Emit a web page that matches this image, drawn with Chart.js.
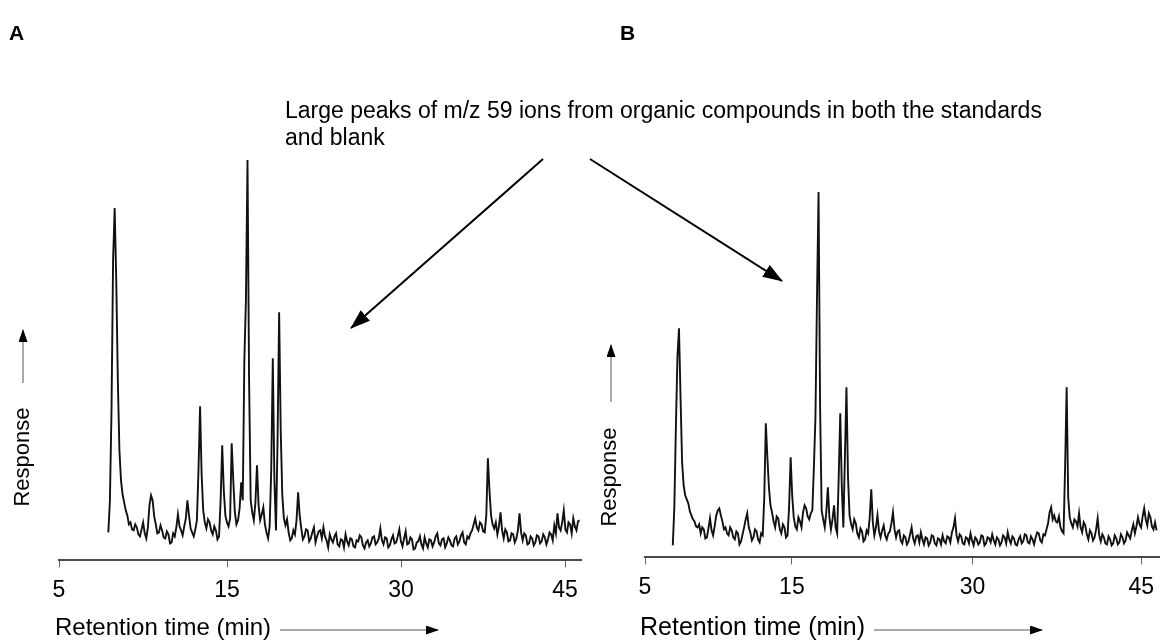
<!DOCTYPE html>
<html>
<head>
<meta charset="utf-8">
<script src="https://cdn.jsdelivr.net/npm/chart.js@4.4.1/dist/chart.umd.min.js"></script>
<style>
  body { margin: 0; background: #fff; width: 1163px; height: 640px; position: relative; overflow: hidden; font-family: "Liberation Sans", Arial, sans-serif; }
  .panel { position: absolute; top: 0; height: 640px; }
  #panelA { left: 0; width: 590px; }
  #panelB { left: 585px; width: 578px; }
  #overlay { position: absolute; left: 0; top: 0; pointer-events: none; }
</style>
</head>
<body>
<div class="panel" id="panelA"><canvas id="chartA" width="590" height="640"></canvas></div>
<div class="panel" id="panelB"><canvas id="chartB" width="578" height="640"></canvas></div>

<svg id="overlay" width="1163" height="640" font-family="Liberation Sans, Arial, sans-serif">
  <defs>
    <marker id="bigHead" markerWidth="20" markerHeight="14" refX="19" refY="7" orient="auto" markerUnits="userSpaceOnUse">
      <path d="M0,0 L20,7 L0,14 Z" fill="#000"/>
    </marker>
    <marker id="smallHead" markerWidth="13" markerHeight="9" refX="12" refY="4.5" orient="auto" markerUnits="userSpaceOnUse">
      <path d="M0,0 L13,4.5 L0,9 Z" fill="#000"/>
    </marker>
  </defs>
  <text x="9" y="40" font-weight="bold" font-size="21">A</text>
  <text x="620" y="40" font-weight="bold" font-size="21">B</text>

  <text x="285" y="118" font-size="23">Large peaks of m/z 59 ions from organic compounds in both the standards</text>
  <text x="285" y="145" font-size="23">and blank</text>
  <line x1="543" y1="159" x2="351" y2="328" stroke="#000" stroke-width="2" marker-end="url(#bigHead)"/>
  <line x1="590" y1="159" x2="782" y2="281" stroke="#000" stroke-width="2" marker-end="url(#bigHead)"/>

  <text transform="translate(29,457) rotate(-90)" text-anchor="middle" font-size="22">Response</text>
  <line x1="23" y1="383" x2="23" y2="330" stroke="#555" stroke-width="1" marker-end="url(#smallHead)"/>
  <text transform="translate(616,477) rotate(-90)" text-anchor="middle" font-size="22">Response</text>
  <line x1="611" y1="402" x2="611" y2="345" stroke="#555" stroke-width="1" marker-end="url(#smallHead)"/>

  <text x="55" y="635" font-size="24">Retention time (min)</text>
  <line x1="280" y1="630" x2="438" y2="630" stroke="#555" stroke-width="1" marker-end="url(#smallHead)"/>
  <text x="640" y="635" font-size="25">Retention time (min)</text>
  <line x1="874" y1="630" x2="1042" y2="630" stroke="#555" stroke-width="1" marker-end="url(#smallHead)"/>
</svg>

<script>
// printed tick labels; the printed time axis is not evenly spaced, so each
// panel keeps its own tick positions on its time scale
const tickLabels = ['5', '15', '30', '45'];
const tickPosA = [5, 18.28, 32.04, 45];
const tickPosB = [5, 16.84, 31.4, 45];

// sampling of the traces (retention time axis units)
const rtStep = 0.125;
const rtStartA = 8.9;
const rtStartB = 7.24;

// A: standards, m/z 59 response (arbitrary units)
const responseA = [
  28, 60, 150, 300, 352, 280, 180, 110, 80, 66,
  58, 50, 45, 36, 38, 31, 30, 36, 33, 26,
  24, 31, 38, 27, 22, 33, 55, 65, 60, 44,
  36, 27, 28, 35, 30, 23, 22, 29, 26, 17,
  18, 27, 24, 33, 46, 34, 30, 25, 34, 42,
  60, 45, 32, 28, 24, 31, 40, 90, 154, 85,
  50, 38, 32, 41, 38, 30, 26, 34, 30, 21,
  24, 60, 115, 70, 45, 38, 34, 42, 117, 80,
  48, 36, 40, 52, 78, 60, 200, 260, 400, 180,
  60, 48, 40, 58, 95, 55, 40, 46, 53, 36,
  28, 22, 34, 90, 202, 80, 30, 120, 248, 130,
  65, 42, 35, 41, 28, 20, 22, 30, 26, 40,
  68, 45, 32, 21, 24, 31, 30, 19, 22, 28,
  33, 18, 24, 29, 30, 22, 33, 24, 20, 13,
  26, 21, 18, 24, 27, 16, 14, 21, 20, 13,
  26, 19, 15, 22, 21, 14, 13, 20, 19, 25,
  23, 15, 12, 18, 20, 14, 17, 23, 24, 16,
  18, 22, 32, 20, 16, 23, 22, 13, 15, 21,
  25, 17, 18, 24, 31, 19, 14, 22, 29, 16,
  17, 23, 21, 11, 12, 18, 19, 24, 16, 12,
  23, 17, 13, 21, 20, 14, 18, 24, 27, 17,
  15, 21, 22, 13, 17, 23, 20, 15, 14, 22,
  24, 16, 19, 25, 28, 18, 16, 24, 22, 27,
  30, 36, 42, 33, 30, 38, 36, 29, 28, 45,
  102, 70, 45, 36, 32, 38, 26, 34, 48, 30,
  22, 31, 28, 19, 20, 27, 26, 18, 22, 30,
  47, 28, 20, 27, 25, 16, 17, 24, 22, 15,
  18, 25, 24, 17, 19, 26, 23, 16, 21, 28,
  26, 20, 35, 27, 47, 33, 30, 38, 50, 31,
  28, 38, 36, 27, 42, 34, 30, 39, 40
];

// B: blank, m/z 59 response (arbitrary units)
const responseB = [
  12, 50, 130, 200, 229, 160, 95, 72, 62, 58,
  54, 46, 42, 38, 36, 31, 30, 33, 24, 30,
  28, 19, 20, 29, 39, 27, 22, 31, 42, 47,
  49, 42, 36, 28, 30, 24, 22, 30, 27, 20,
  18, 26, 24, 13, 16, 23, 30, 38, 44, 30,
  25, 17, 20, 28, 26, 18, 15, 24, 22, 60,
  134, 100, 70, 52, 45, 36, 30, 41, 39, 28,
  24, 33, 30, 20, 22, 50, 100, 62, 40, 31,
  28, 40, 36, 30, 45, 52, 49, 41, 38, 44,
  47, 90, 140, 260, 365, 150, 47, 38, 30, 45,
  70, 40, 28, 38, 52, 30, 24, 80, 144, 70,
  30, 100, 170, 80, 42, 33, 28, 38, 34, 24,
  20, 29, 26, 16, 18, 27, 24, 40, 68, 35,
  22, 30, 42, 26, 20, 27, 32, 22, 18, 24,
  26, 34, 45, 28, 20, 26, 27, 17, 14, 22,
  20, 13, 16, 23, 30, 19, 14, 21, 22, 15,
  25, 18, 13, 20, 19, 12, 15, 22, 21, 14,
  12, 19, 18, 13, 22, 16, 14, 21, 20, 15,
  25, 30, 39, 22, 16, 23, 21, 14, 13, 20,
  19, 14, 24, 17, 12, 20, 18, 13, 15, 22,
  21, 12, 14, 20, 19, 15, 23, 17, 13, 20,
  18, 12, 15, 22, 20, 14, 25, 18, 14, 21,
  19, 13, 12, 18, 21, 14, 16, 23, 22, 15,
  14, 21, 18, 13, 20, 25, 24, 17, 15, 23,
  22, 28, 34, 45, 50, 38, 42, 36, 35, 41,
  30, 26, 24, 90, 170, 60, 40, 34, 30, 38,
  36, 31, 44, 30, 25, 35, 32, 23, 18, 27,
  24, 17, 20, 28, 39, 22, 16, 23, 20, 14,
  13, 21, 18, 12, 14, 22, 19, 13, 15, 23,
  20, 14, 17, 25, 22, 19, 27, 33, 24, 31,
  40, 33, 30, 41, 49, 38, 32, 44, 40, 31,
  28, 35, 27
];

const fontFamily = '"Liberation Sans", Arial, sans-serif';

function makeChart(id, rtStart, values, tickPos, xMax, yMax, pad) {
  const points = values.map((v, i) => ({ x: rtStart + i * rtStep, y: v }));
  return new Chart(document.getElementById(id), {
    type: 'line',
    data: {
      datasets: [{
        data: points,
        borderColor: '#111',
        borderWidth: 1.9,
        pointRadius: 0,
        tension: 0
      }]
    },
    options: {
      responsive: false,
      animation: false,
      devicePixelRatio: 1,
      layout: { padding: pad },
      plugins: { legend: { display: false }, tooltip: { enabled: false } },
      scales: {
        x: {
          type: 'linear',
          min: 5,
          max: xMax,
          afterBuildTicks: scale => { scale.ticks = tickPos.map(v => ({ value: v })); },
          ticks: {
            callback: (v, i) => tickLabels[i],
            autoSkip: false,
            maxRotation: 0,
            padding: 9,
            color: '#000',
            font: { size: 23, family: fontFamily }
          },
          grid: { display: true, drawOnChartArea: false, drawTicks: true, tickLength: 7, color: '#666' },
          border: { display: true, color: '#4a4a4a', width: 2 }
        },
        y: { display: false, min: 0, max: yMax }
      }
    }
  });
}

makeChart('chartA', rtStartA, responseA, tickPosA, 46.26, 460, { left: 59, right: 9, top: 100, bottom: 27 });
makeChart('chartB', rtStartB, responseB, tickPosB, 46.44, 457, { left: 60, right: 0, top: 100, bottom: 30 });
</script>
</body>
</html>
